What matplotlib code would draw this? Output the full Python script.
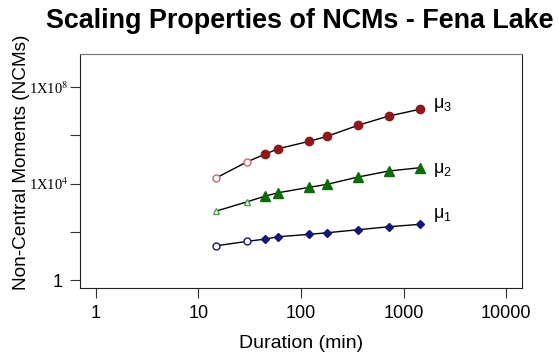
import matplotlib
matplotlib.use("Agg")
import matplotlib.pyplot as plt

# durations (min) and non-central moments
duration = [15, 30, 45, 60, 120, 180, 360, 720, 1440]
mu1 = [26.5, 40.4, 50.2, 62.7, 78.7, 91.8, 122.2, 163.0, 204.6]
mu2 = [730, 1775, 3055, 4190, 7015, 9355, 18800, 33340, 45710]
mu3 = [17580, 81100, 169000, 280500, 568900, 918300, 2624000, 6383000, 12110000]
n_open = 2  # first points drawn as open markers

labels = [r"$\mathrm{\mu}_1$", r"$\mathrm{\mu}_2$", r"$\mathrm{\mu}_3$"]
label_y = [500, 36000, 1.8e7]

x_ticks = [1, 10, 100, 1000, 10000]
x_ticklabels = ["1", "10", "100", "1000", "10000"]

plt.rcParams["font.family"] = ["Liberation Sans", "DejaVu Sans"]
plt.rcParams["mathtext.fontset"] = "custom"
plt.rcParams["mathtext.rm"] = "Liberation Sans"
plt.rcParams["mathtext.it"] = "Liberation Sans:italic"

fig = plt.figure(figsize=(5.59, 3.53), dpi=100)
ax = fig.add_axes([0.1431, 0.1841, 0.7907, 0.6638])
ax.set_xscale("log")
ax.set_yscale("log")
ax.set_xlim(0.70, 14300)
ax.set_ylim(10 ** -0.33, 10 ** 9.39)

series = [
    (mu1, "D", "o", "#16167a", "#16167a", 4),
    (mu2, "^", "^", "#0b6b0b", "#4aa34a", 6.5),
    (mu3, "o", "o", "#8c1a1a", "#c46a6a", 6),
]
for vals, mk, mk_open, col, col_open, ms in series:
    ax.plot(duration, vals, color="black", lw=1, zorder=2)
    ax.plot(duration[n_open:], vals[n_open:], ls="none", marker=mk,
            ms=ms, color=col, mec=col, zorder=3)
    ax.plot(duration[:n_open], vals[:n_open], ls="none", marker=mk_open,
            ms=5, mfc="white", mec=col_open, mew=1, zorder=3)

for lab, yv in zip(labels, label_y):
    ax.text(1950, yv, lab, fontsize=13, va="center", ha="left")

ax.set_xticks(x_ticks)
ax.set_xticklabels(x_ticklabels, fontsize=13)
ax.xaxis.set_minor_locator(matplotlib.ticker.NullLocator())

ax.set_yticks([1, 1e4, 1e8])
ax.set_yticks([1e2, 1e6], minor=True)
ax.yaxis.set_minor_formatter(matplotlib.ticker.NullFormatter())
ax.set_yticklabels(["1 ", "1X10$^4$", "1X10$^8$"])
ylabs = ax.get_yticklabels()
ylabs[0].set_fontsize(13)
for t in ylabs[1:]:
    t.set_fontfamily("Liberation Serif")
    t.set_math_fontfamily("stix")
    t.set_fontsize(10.5)

ax.tick_params(which="both", direction="out", length=7, width=0.8,
               color="#333333", pad=5)
ax.tick_params(axis="y", which="major", pad=1.5)
for side in ["left", "bottom", "right"]:
    ax.spines[side].set_color("#222222")
ax.spines["top"].set_color("#777777")

ax.set_xlabel("Duration (min)", fontsize=14, va="center")
ax.xaxis.set_label_coords(0.5, -0.235)
ax.set_ylabel("Non-Central Moments (NCMs)", fontsize=13.7, va="center")
ax.yaxis.set_label_coords(-0.133, 0.538)
fig.text(0.537, 0.94, "Scaling Properties of NCMs - Fena Lake",
         fontsize=19.4, fontweight="bold", ha="center", va="center")

fig.savefig("out.png", dpi=100)
